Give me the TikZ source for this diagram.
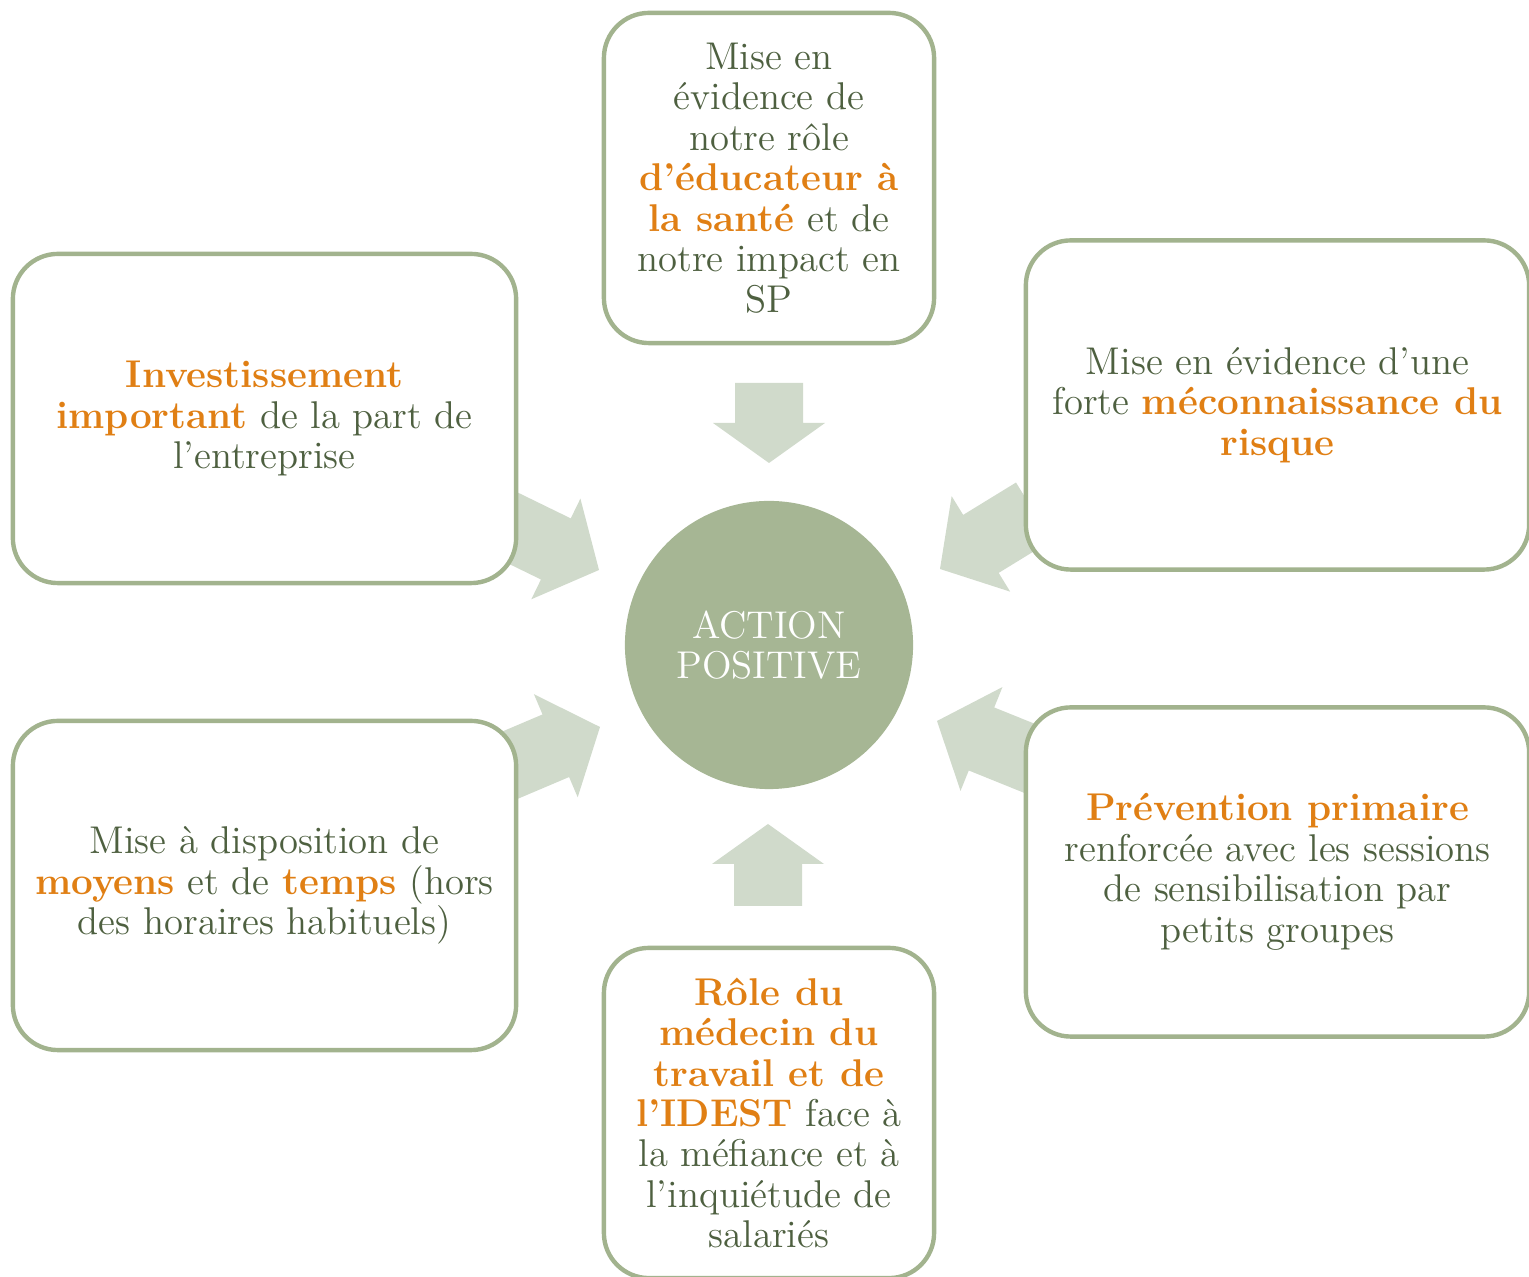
\documentclass[tikz,border=0pt]{standalone}
\usepackage{fontspec}
\definecolor{txt}{HTML}{4E6040}
\definecolor{hi}{HTML}{E07F14}
\definecolor{edge}{HTML}{A2B38E}
\definecolor{disc}{HTML}{A6B694}
\definecolor{arr}{HTML}{D0DACB}
\newcommand\hl[1]{{\bfseries\color{hi}#1}}
\newcommand\blockarrow[6]{% tip name, angle, head length, total length, head half, shaft half
  \fill[arr, shift={(#1)}, rotate=#2] (0,0) -- (-#3,#5) -- (-#3,#6) -- (-#4,#6) -- (-#4,-#6) -- (-#3,-#6) -- (-#3,-#5) -- cycle;}
\begin{document}
\begin{tikzpicture}[x=0.01cm,y=-0.01cm,
  box/.style={draw=edge, line width=1.25pt, fill=white, rounded corners=0.45cm,
    align=center, text=txt, font=\fontsize{11}{11.5}\selectfont, inner sep=0pt},
  wide/.style={box, minimum width=5.03cm, minimum height=3.29cm},
  tall/.style={box, minimum width=3.3cm, minimum height=3.3cm},
  hub/.style={circle, fill=disc, minimum size=2.88cm, inner sep=0pt, align=center,
    text=white, font=\fontsize{11}{11.5}\selectfont}]
\useasboundingbox (0,0) rectangle (1529,1277);
% arrow tips
\coordinate (tT) at (769,463);
\coordinate (tB) at (768,824);
\coordinate (tTL) at (599,570);
\coordinate (tBL) at (600,727);
\coordinate (tTR) at (940,569);
\coordinate (tBR) at (937,721);
\blockarrow{tT}{-90}{40}{80}{56}{34}
\blockarrow{tB}{90}{40}{82}{56}{34}
\blockarrow{tTL}{-26}{48}{110}{56}{34}
\blockarrow{tBL}{23}{48}{110}{56}{34}
\blockarrow{tTR}{-148.5}{48}{110}{56}{34}
\blockarrow{tBR}{158}{48}{110}{56}{34}
% boxes
\node[tall] (top) at (769,178) {Mise en\\évidence de\\notre rôle\\\hl{d’éducateur à}\\\hl{la santé} et de\\notre impact en\\SP};
\node[wide] (tl) at (264.5,418.5) {\hl{Investissement}\\\hl{important} de la part de\\l’entreprise};
\node[wide] (tr) at (1277.5,405) {Mise en évidence d’une\\forte \hl{méconnaissance du}\\\hl{risque}};
\node[wide] (bl) at (264.5,885.5) {Mise à disposition de\\\hl{moyens} et de \hl{temps} (hors\\des horaires habituels)};
\node[wide] (br) at (1277.5,872) {\hl{Prévention primaire}\\renforcée avec les sessions\\de sensibilisation par\\petits groupes};
\node[tall] (bot) at (769,1113) {\hl{Rôle du}\\\hl{médecin du}\\\hl{travail et de}\\\hl{l’IDEST} face à\\la méfiance et à\\l’inquiétude de\\salariés};
\node[hub] (c) at (769,645) {ACTION\\POSITIVE};
\end{tikzpicture}
\end{document}
